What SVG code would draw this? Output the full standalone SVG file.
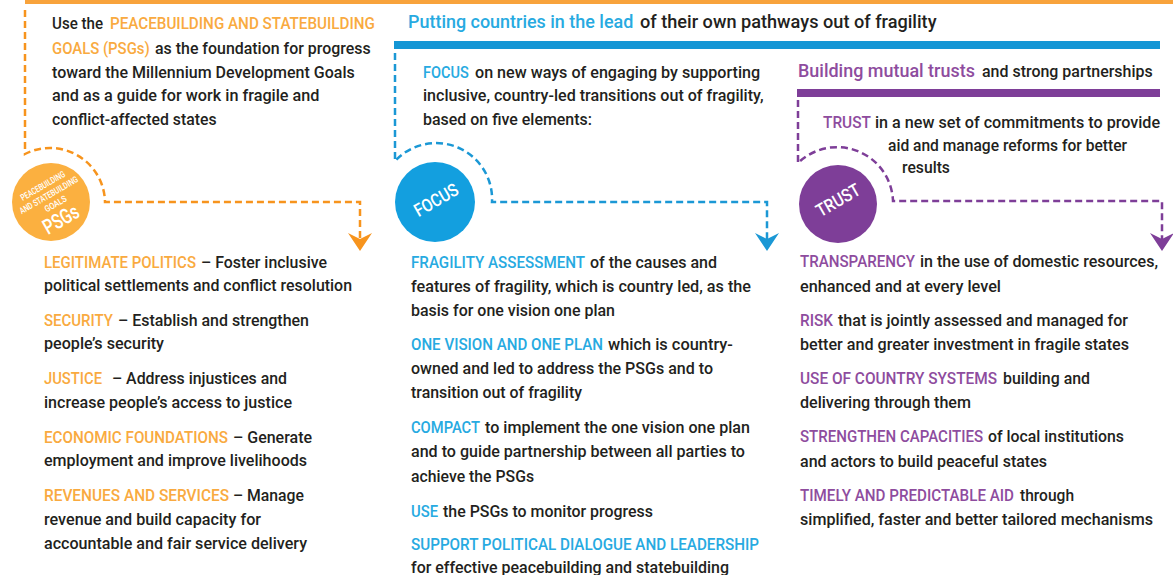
<svg xmlns="http://www.w3.org/2000/svg" width="1173" height="575" viewBox="0 0 1173 575">
<style>
.t{font-family:"Liberation Sans Narrow","Roboto","Liberation Sans",sans-serif;font-size:17px;font-weight:500;fill:#231F20}
.t text{font-family:"Liberation Sans Narrow","Roboto","Liberation Sans",sans-serif;font-size:17px;font-weight:500}
.t text.h{font-size:18px}
.t text.o{fill:#F9AA40}.t text.b{fill:#27AAE1}.t text.p{fill:#8E4C9E}
.w{font-family:"Liberation Sans Narrow","Roboto","Liberation Sans",sans-serif;font-weight:500;fill:#FFFFFF;text-anchor:middle}
.dash{fill:none;stroke-width:2.5;stroke-dasharray:7 4}
</style>
<defs>
<marker id="aO" markerUnits="userSpaceOnUse" viewBox="0 0 18 24" markerWidth="18" markerHeight="24" refX="6" refY="12" orient="auto"><path d="M0,0 L18,12 L0,24 L6,12 Z" fill="#F7941D"/></marker>
<marker id="aB" markerUnits="userSpaceOnUse" viewBox="0 0 18 24" markerWidth="18" markerHeight="24" refX="6" refY="12" orient="auto"><path d="M0,0 L18,12 L0,24 L6,12 Z" fill="#1B98D5"/></marker>
<marker id="aP" markerUnits="userSpaceOnUse" viewBox="0 0 18 24" markerWidth="18" markerHeight="24" refX="6" refY="12" orient="auto"><path d="M0,0 L18,12 L0,24 L6,12 Z" fill="#7E3E98"/></marker>
</defs>

<g id="bars">
<rect x="25" y="0" width="1148" height="4" fill="#F8A33C"/>
<rect x="394" y="41" width="766" height="8" fill="#1496D5"/>
<rect x="797" y="89" width="363" height="8" fill="#7E3E98"/>
</g>

<g id="connectors">
<path class="dash" stroke="#F7941D" d="M25,10 V154 A55,55 0 0 1 105,202 H360 V239" marker-end="url(#aO)"/>
<path class="dash" stroke="#1B98D5" d="M395,53 V161 A56,56 0 0 1 492,202 H767 V239" marker-end="url(#aB)"/>
<path class="dash" stroke="#7E3E98" d="M798,100 V163 A56,56 0 0 1 893,201 H1162 V239" marker-end="url(#aP)"/>
</g>

<g id="psgs-node">
<circle cx="51" cy="202" r="39" fill="#FBB040"/>
<g transform="translate(51,202) rotate(-30)">
<text class="w" x="1" y="-15" font-size="9" textLength="50" lengthAdjust="spacingAndGlyphs">PEACEBUILDING</text>
<text class="w" x="1.5" y="-4" font-size="9" textLength="66" lengthAdjust="spacingAndGlyphs">AND STATEBUILDING</text>
<text class="w" x="3" y="7" font-size="9" textLength="24" lengthAdjust="spacingAndGlyphs">GOALS</text>
<text class="w" x="0" y="27" font-size="21" textLength="38" lengthAdjust="spacingAndGlyphs">PSGs</text>
</g>
</g>

<g id="focus-node">
<circle cx="435" cy="202" r="40" fill="#139FDF"/>
<text class="w" font-size="18" transform="translate(435,202) rotate(-30)" x="2" y="5" textLength="48" lengthAdjust="spacingAndGlyphs">FOCUS</text>
</g>

<g id="trust-node">
<circle cx="838" cy="204" r="39" fill="#7E3E98"/>
<text class="w" font-size="18" transform="translate(838,204) rotate(-30)" x="2" y="3" textLength="48" lengthAdjust="spacingAndGlyphs">TRUST</text>
</g>

<g id="psgs-intro" class="t" fill="#231F20">
<text transform="translate(52,29) scale(.88,1)" textLength="58" lengthAdjust="spacingAndGlyphs">Use the</text>
<text class="o" transform="translate(110,29) scale(.88,1)" textLength="301" lengthAdjust="spacingAndGlyphs">PEACEBUILDING AND STATEBUILDING</text>
<text class="o" transform="translate(52,54) scale(.88,1)" textLength="111" lengthAdjust="spacingAndGlyphs">GOALS (PSGs)</text>
<text transform="translate(155,54) scale(.88,1)" textLength="245" lengthAdjust="spacingAndGlyphs">as the foundation for progress</text>
<text transform="translate(52,78) scale(.88,1)" textLength="344" lengthAdjust="spacingAndGlyphs">toward the Millennium Development Goals</text>
<text transform="translate(52,101) scale(.88,1)" textLength="304" lengthAdjust="spacingAndGlyphs">and as a guide for work in fragile and</text>
<text transform="translate(52,125) scale(.88,1)" textLength="187" lengthAdjust="spacingAndGlyphs">conflict-affected states</text>
</g>

<g id="focus-intro" class="t">
<text class="h b" transform="translate(408,28) scale(.88,1)" textLength="256" lengthAdjust="spacingAndGlyphs">Putting countries in the lead</text>
<text class="h" transform="translate(640,28) scale(.88,1)" textLength="337" lengthAdjust="spacingAndGlyphs">of their own pathways out of fragility</text>
<text class="b" transform="translate(423,78) scale(.88,1)" textLength="52" lengthAdjust="spacingAndGlyphs">FOCUS</text>
<text transform="translate(475,78) scale(.88,1)" textLength="324" lengthAdjust="spacingAndGlyphs">on new ways of engaging by supporting</text>
<text transform="translate(423,101) scale(.88,1)" textLength="387" lengthAdjust="spacingAndGlyphs">inclusive, country-led transitions out of fragility,</text>
<text transform="translate(423,125) scale(.88,1)" textLength="192" lengthAdjust="spacingAndGlyphs">based on five elements:</text>
</g>

<g id="trust-intro" class="t">
<text class="h p" transform="translate(798,77) scale(.88,1)" textLength="201" lengthAdjust="spacingAndGlyphs">Building mutual trusts</text>
<text transform="translate(982,77) scale(.88,1)" textLength="194" lengthAdjust="spacingAndGlyphs">and strong partnerships</text>
<text class="p" transform="translate(823,128) scale(.88,1)" textLength="54.5" lengthAdjust="spacingAndGlyphs">TRUST</text>
<text transform="translate(875,128) scale(.88,1)" textLength="324" lengthAdjust="spacingAndGlyphs">in a new set of commitments to provide</text>
<text transform="translate(888,151) scale(.88,1)" textLength="271.6" lengthAdjust="spacingAndGlyphs">aid and manage reforms for better</text>
<text transform="translate(902,173) scale(.88,1)" textLength="54.5" lengthAdjust="spacingAndGlyphs">results</text>
</g>

<g id="psgs-list" class="t">
<text class="o" transform="translate(44,268) scale(.88,1)" textLength="172.7" lengthAdjust="spacingAndGlyphs">LEGITIMATE POLITICS</text>
<text transform="translate(201,268) scale(.88,1)" textLength="143.2" lengthAdjust="spacingAndGlyphs">– Foster inclusive</text>
<text transform="translate(44,291) scale(.88,1)" textLength="350" lengthAdjust="spacingAndGlyphs">political settlements and conflict resolution</text>
<text class="o" transform="translate(44,326) scale(.88,1)" textLength="78.4" lengthAdjust="spacingAndGlyphs">SECURITY</text>
<text transform="translate(118,326) scale(.88,1)" textLength="217" lengthAdjust="spacingAndGlyphs">– Establish and strengthen</text>
<text transform="translate(44,349) scale(.88,1)" textLength="136.4" lengthAdjust="spacingAndGlyphs">people’s security</text>
<text class="o" transform="translate(44,384) scale(.88,1)" textLength="65.9" lengthAdjust="spacingAndGlyphs">JUSTICE</text>
<text transform="translate(112,384) scale(.88,1)" textLength="198.9" lengthAdjust="spacingAndGlyphs">– Address injustices and</text>
<text transform="translate(44,408) scale(.88,1)" textLength="281.8" lengthAdjust="spacingAndGlyphs">increase people’s access to justice</text>
<text class="o" transform="translate(44,443) scale(.88,1)" textLength="209.1" lengthAdjust="spacingAndGlyphs">ECONOMIC FOUNDATIONS</text>
<text transform="translate(233,443) scale(.88,1)" textLength="89.8" lengthAdjust="spacingAndGlyphs">– Generate</text>
<text transform="translate(44,466) scale(.88,1)" textLength="298.9" lengthAdjust="spacingAndGlyphs">employment and improve livelihoods</text>
<text class="o" transform="translate(44,501) scale(.88,1)" textLength="210.2" lengthAdjust="spacingAndGlyphs">REVENUES AND SERVICES</text>
<text transform="translate(233,501) scale(.88,1)" textLength="80.7" lengthAdjust="spacingAndGlyphs">– Manage</text>
<text transform="translate(44,525) scale(.88,1)" textLength="246.6" lengthAdjust="spacingAndGlyphs">revenue and build capacity for</text>
<text transform="translate(44,549) scale(.88,1)" textLength="298.9" lengthAdjust="spacingAndGlyphs">accountable and fair service delivery</text>
</g>

<g id="focus-list" class="t">
<text class="b" transform="translate(411,268) scale(.88,1)" textLength="197.7" lengthAdjust="spacingAndGlyphs">FRAGILITY ASSESSMENT</text>
<text transform="translate(590,268) scale(.88,1)" textLength="144.3" lengthAdjust="spacingAndGlyphs">of the causes and</text>
<text transform="translate(411,292) scale(.88,1)" textLength="386.4" lengthAdjust="spacingAndGlyphs">features of fragility, which is country led, as the</text>
<text transform="translate(411,316) scale(.88,1)" textLength="231.8" lengthAdjust="spacingAndGlyphs">basis for one vision one plan</text>
<text class="b" transform="translate(411,350) scale(.88,1)" textLength="218.2" lengthAdjust="spacingAndGlyphs">ONE VISION AND ONE PLAN</text>
<text transform="translate(608,350) scale(.88,1)" textLength="142" lengthAdjust="spacingAndGlyphs">which is country-</text>
<text transform="translate(411,374) scale(.88,1)" textLength="343.2" lengthAdjust="spacingAndGlyphs">owned and led to address the PSGs and to</text>
<text transform="translate(411,398) scale(.88,1)" textLength="194.3" lengthAdjust="spacingAndGlyphs">transition out of fragility</text>
<text class="b" transform="translate(411,433) scale(.88,1)" textLength="78.4" lengthAdjust="spacingAndGlyphs">COMPACT</text>
<text transform="translate(485,433) scale(.88,1)" textLength="301.1" lengthAdjust="spacingAndGlyphs">to implement the one vision one plan</text>
<text transform="translate(411,457) scale(.88,1)" textLength="379.5" lengthAdjust="spacingAndGlyphs">and to guide partnership between all parties to</text>
<text transform="translate(411,482) scale(.88,1)" textLength="139.8" lengthAdjust="spacingAndGlyphs">achieve the PSGs</text>
<text class="b" transform="translate(411,517) scale(.88,1)" textLength="30.7" lengthAdjust="spacingAndGlyphs">USE</text>
<text transform="translate(443,517) scale(.88,1)" textLength="238.6" lengthAdjust="spacingAndGlyphs">the PSGs to monitor progress</text>
<text class="b" transform="translate(411,550) scale(.88,1)" textLength="395.5" lengthAdjust="spacingAndGlyphs">SUPPORT POLITICAL DIALOGUE AND LEADERSHIP</text>
<text transform="translate(411,573) scale(.88,1)" textLength="361.4" lengthAdjust="spacingAndGlyphs">for effective peacebuilding and statebuilding</text>
</g>

<g id="trust-list" class="t">
<text class="p" transform="translate(800,267) scale(.88,1)" textLength="130.7" lengthAdjust="spacingAndGlyphs">TRANSPARENCY</text>
<text transform="translate(920,267) scale(.88,1)" textLength="270.5" lengthAdjust="spacingAndGlyphs">in the use of domestic resources,</text>
<text transform="translate(800,292) scale(.88,1)" textLength="228.4" lengthAdjust="spacingAndGlyphs">enhanced and at every level</text>
<text class="p" transform="translate(800,326) scale(.88,1)" textLength="37.5" lengthAdjust="spacingAndGlyphs">RISK</text>
<text transform="translate(838,326) scale(.88,1)" textLength="329.5" lengthAdjust="spacingAndGlyphs">that is jointly assessed and managed for</text>
<text transform="translate(800,350) scale(.88,1)" textLength="373.9" lengthAdjust="spacingAndGlyphs">better and greater investment in fragile states</text>
<text class="p" transform="translate(800,384) scale(.88,1)" textLength="223.9" lengthAdjust="spacingAndGlyphs">USE OF COUNTRY SYSTEMS</text>
<text transform="translate(1003,384) scale(.88,1)" textLength="98.9" lengthAdjust="spacingAndGlyphs">building and</text>
<text transform="translate(800,408) scale(.88,1)" textLength="194.3" lengthAdjust="spacingAndGlyphs">delivering through them</text>
<text class="p" transform="translate(800,442) scale(.88,1)" textLength="208" lengthAdjust="spacingAndGlyphs">STRENGTHEN CAPACITIES</text>
<text transform="translate(988,442) scale(.88,1)" textLength="154.5" lengthAdjust="spacingAndGlyphs">of local institutions</text>
<text transform="translate(800,467) scale(.88,1)" textLength="280.7" lengthAdjust="spacingAndGlyphs">and actors to build peaceful states</text>
<text class="p" transform="translate(800,501) scale(.88,1)" textLength="243.2" lengthAdjust="spacingAndGlyphs">TIMELY AND PREDICTABLE AID</text>
<text transform="translate(1020,501) scale(.88,1)" textLength="61.4" lengthAdjust="spacingAndGlyphs">through</text>
<text transform="translate(800,525) scale(.88,1)" textLength="401.1" lengthAdjust="spacingAndGlyphs">simplified, faster and better tailored mechanisms</text>
</g>
</svg>
